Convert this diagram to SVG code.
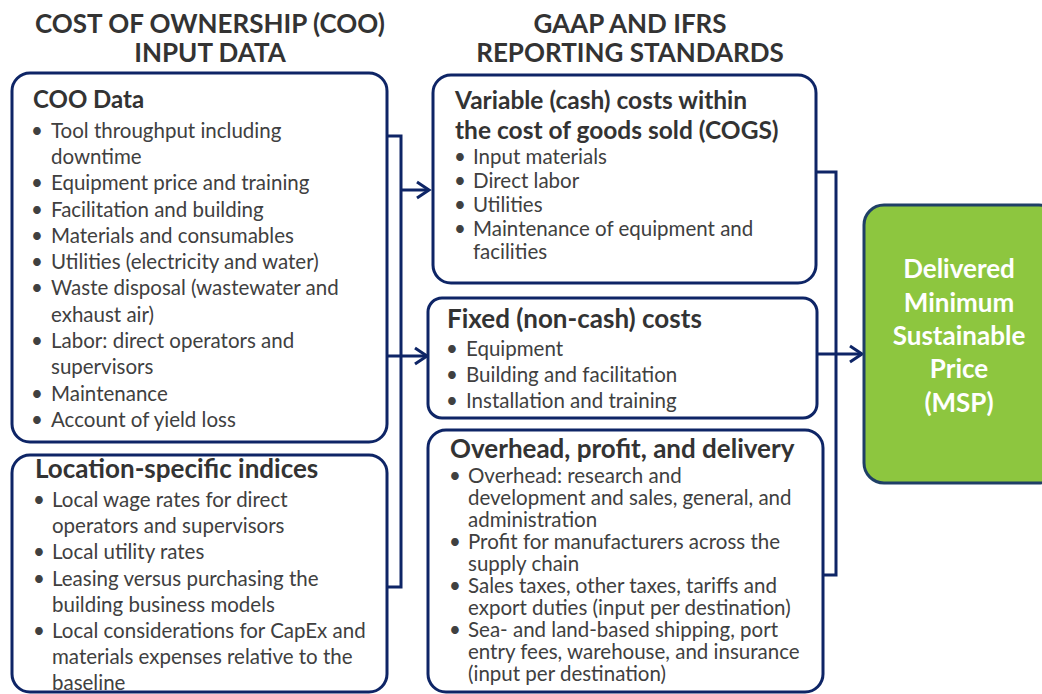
<svg xmlns="http://www.w3.org/2000/svg" width="1042" height="694" viewBox="0 0 1042 694">
<defs>
<style>
.box{fill:#ffffff;stroke:#0E2566;stroke-width:3}
.hdr{font-family:Lato,"Liberation Sans",sans-serif;font-weight:bold;font-size:26px;fill:#333333;text-anchor:middle}
.ttl{font-family:Lato,"Liberation Sans",sans-serif;font-weight:bold;font-size:26px;fill:#333333}
.bd{font-family:Lato,"Liberation Sans",sans-serif;font-size:20.5px;fill:#404040}
.gt{font-family:Lato,"Liberation Sans",sans-serif;font-weight:bold;font-size:26px;fill:#ffffff;text-anchor:middle}
.con{fill:none;stroke:#0E2566;stroke-width:3}
</style>
<marker id="arr" markerWidth="20" markerHeight="20" viewBox="0 0 20 20" refX="15" refY="10" orient="auto" markerUnits="userSpaceOnUse">
<path d="M3,2 L15,10 L3,18" fill="none" stroke="#0E2566" stroke-width="3"/>
</marker>
</defs>
<rect width="1042" height="694" fill="#ffffff"/>

<g id="headers">
<text class="hdr" x="210" y="33">COST OF OWNERSHIP (COO)</text>
<text class="hdr" x="210" y="62">INPUT DATA</text>
<text class="hdr" x="630" y="33">GAAP AND IFRS</text>
<text class="hdr" x="630" y="62">REPORTING STANDARDS</text>
</g>

<g id="connectors">
<path class="con" d="M387,136 H401 V587 H387"/>
<path class="con" d="M401,190 H429" marker-end="url(#arr)"/>
<path class="con" d="M387,356 H427" marker-end="url(#arr)"/>
<path class="con" d="M816,172 H836 V575 H823"/>
<path class="con" d="M817,354 H862" marker-end="url(#arr)"/>
</g>

<g id="coo-data">
<rect class="box" x="12" y="73" width="375" height="369" rx="18"/>
<text class="ttl" x="33" y="108" style="font-size:24px">COO Data</text>
<g class="bd">
<text x="31" y="138">•</text><text x="51" y="138">Tool throughput including</text>
<text x="51" y="164">downtime</text>
<text x="31" y="190">•</text><text x="51" y="190">Equipment price and training</text>
<text x="31" y="217">•</text><text x="51" y="217">Facilitation and building</text>
<text x="31" y="243">•</text><text x="51" y="243">Materials and consumables</text>
<text x="31" y="269">•</text><text x="51" y="269">Utilities (electricity and water)</text>
<text x="31" y="295">•</text><text x="51" y="295">Waste disposal (wastewater and</text>
<text x="51" y="322">exhaust air)</text>
<text x="31" y="348">•</text><text x="51" y="348">Labor: direct operators and</text>
<text x="51" y="374">supervisors</text>
<text x="31" y="401">•</text><text x="51" y="401">Maintenance</text>
<text x="31" y="427">•</text><text x="51" y="427">Account of yield loss</text>
</g>
</g>

<g id="location">
<rect class="box" x="12" y="455" width="375" height="237" rx="18"/>
<text class="ttl" x="35" y="478">Location-specific indices</text>
<g class="bd">
<text x="33" y="507">•</text><text x="52" y="507">Local wage rates for direct</text>
<text x="52" y="533">operators and supervisors</text>
<text x="33" y="559">•</text><text x="52" y="559">Local utility rates</text>
<text x="33" y="586">•</text><text x="52" y="586">Leasing versus purchasing the</text>
<text x="52" y="612">building business models</text>
<text x="33" y="638">•</text><text x="52" y="638">Local considerations for CapEx and</text>
<text x="52" y="664">materials expenses relative to the</text>
<text x="52" y="690">baseline</text>
</g>
</g>

<g id="variable">
<rect class="box" x="433" y="75" width="383" height="208" rx="18"/>
<text class="ttl" x="455" y="109" style="font-size:24.5px">Variable (cash) costs within</text>
<text class="ttl" x="455" y="139" style="font-size:24.5px">the cost of goods sold (COGS)</text>
<g class="bd">
<text x="454" y="164">•</text><text x="473" y="164">Input materials</text>
<text x="454" y="188">•</text><text x="473" y="188">Direct labor</text>
<text x="454" y="212">•</text><text x="473" y="212">Utilities</text>
<text x="454" y="236">•</text><text x="473" y="236">Maintenance of equipment and</text>
<text x="473" y="259">facilities</text>
</g>
</g>

<g id="fixed">
<rect class="box" x="428" y="298" width="389" height="120" rx="14"/>
<text class="ttl" x="447" y="328">Fixed (non-cash) costs</text>
<g class="bd">
<text x="446" y="356">•</text><text x="466" y="356">Equipment</text>
<text x="446" y="382">•</text><text x="466" y="382">Building and facilitation</text>
<text x="446" y="408">•</text><text x="466" y="408">Installation and training</text>
</g>
</g>

<g id="overhead">
<rect class="box" x="428" y="430" width="395" height="262" rx="18"/>
<text class="ttl" x="450" y="458">Overhead, profit, and delivery</text>
<g class="bd">
<text x="449" y="483">•</text><text x="468" y="483">Overhead: research and</text>
<text x="468" y="505">development and sales, general, and</text>
<text x="468" y="527">administration</text>
<text x="449" y="549">•</text><text x="468" y="549">Profit for manufacturers across the</text>
<text x="468" y="571">supply chain</text>
<text x="449" y="593">•</text><text x="468" y="593">Sales taxes, other taxes, tariffs and</text>
<text x="468" y="615">export duties (input per destination)</text>
<text x="449" y="637">•</text><text x="468" y="637">Sea- and land-based shipping, port</text>
<text x="468" y="659">entry fees, warehouse, and insurance</text>
<text x="468" y="681">(input per destination)</text>
</g>
</g>

<g id="msp">
<rect x="864" y="205" width="195" height="278" rx="20" fill="#8DC63F" stroke="#1F3F66" stroke-width="3"/>
<text class="gt" x="959" y="278">Delivered</text>
<text class="gt" x="959" y="312">Minimum</text>
<text class="gt" x="959" y="345">Sustainable</text>
<text class="gt" x="959" y="378">Price</text>
<text class="gt" x="959" y="412">(MSP)</text>
</g>
</svg>
